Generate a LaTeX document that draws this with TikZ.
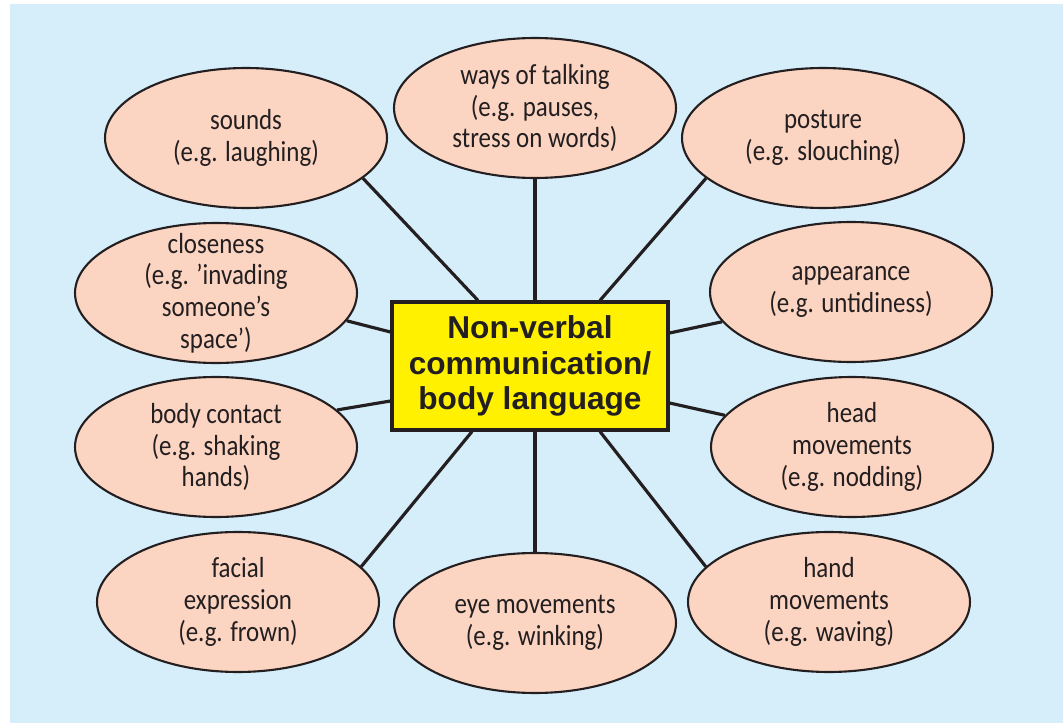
\documentclass[tikz,border=0pt]{standalone}
\usepackage{fontspec}
\setmainfont{Carlito}[FakeStretch=0.86]
\newfontfamily\boxfont{Liberation Sans}
\usetikzlibrary{shapes.geometric,calc}
\definecolor{bgblue}{HTML}{D6EDFA}
\definecolor{peach}{HTML}{FCD4C2}
\definecolor{boxyellow}{HTML}{FFF100}
\definecolor{ink}{HTML}{231F20}
\begin{document}
\begin{tikzpicture}[x=0.02cm,y=-0.02cm,
  bubble/.style={ellipse, draw=ink, line width=1.2pt, fill=peach,
    minimum width=5.64cm, minimum height=2.8cm, inner sep=-8mm,
    align=center, text=ink, font=\fontsize{16.5}{18}\selectfont},
  centrebox/.style={rectangle, draw=ink, line width=1.8pt, fill=boxyellow,
    minimum width=5.52cm, minimum height=2.56cm, align=center, text=ink,
    font=\boxfont\bfseries\fontsize{18}{20}\selectfont},
  link/.style={draw=ink, line width=1.8pt}]
\useasboundingbox (0,0) rectangle (1063,723);
% pale blue panel
\fill[bgblue] (10,4) rectangle (1063,723);

% central topic
\node[centrebox] (box) at (530,366) {Non-verbal\\communication/\\body language};

% surrounding categories
\node[bubble] (sounds)      at (246,138) {sounds\\(e.g. laughing)};
\node[bubble] (ways)        at (535,108) {ways of talking\\(e.g. pauses,\\stress on words)};
\node[bubble] (posture)     at (823,138) {posture\\(e.g. slouching)};
\node[bubble] (closeness)   at (216,293) {closeness\\(e.g. ’invading\\someone’s\\space’)};
\node[bubble] (appearance)  at (851,292) {appearance\\(e.g. untidiness)};
\node[bubble] (bodycontact) at (216,447) {body contact\\(e.g. shaking\\hands)};
\node[bubble] (head)        at (852,447) {head\\movements\\(e.g. nodding)};
\node[bubble] (facial)      at (238,602) {facial\\expression\\(e.g. frown)};
\node[bubble] (eye)         at (535,623) {eye movements\\(e.g. winking)};
\node[bubble] (hand)        at (829,602) {hand\\movements\\(e.g. waving)};

% spokes
\draw[link] ($(box.north)+(-52,0)$) -- (sounds.-19);
\draw[link] (ways.south) -- (ways.south |- box.north);
\draw[link] ($(box.north)+(70,0)$) -- (posture.-161);
\draw[link] ($(box.west)+(0,-34)$) -- (closeness.-12.5);
\draw[link] ($(box.east)+(0,-33)$) -- (appearance.193.6);
\draw[link] ($(box.west)+(0,35)$) -- (bodycontact.17);
\draw[link] ($(box.east)+(0,37)$) -- (head.166.7);
\draw[link] ($(box.south)+(-58,0)$) -- (facial.16.9);
\draw[link] (eye.north) -- (eye.north |- box.south);
\draw[link] ($(box.south)+(70,0)$) -- (hand.164.7);
\end{tikzpicture}
\end{document}
